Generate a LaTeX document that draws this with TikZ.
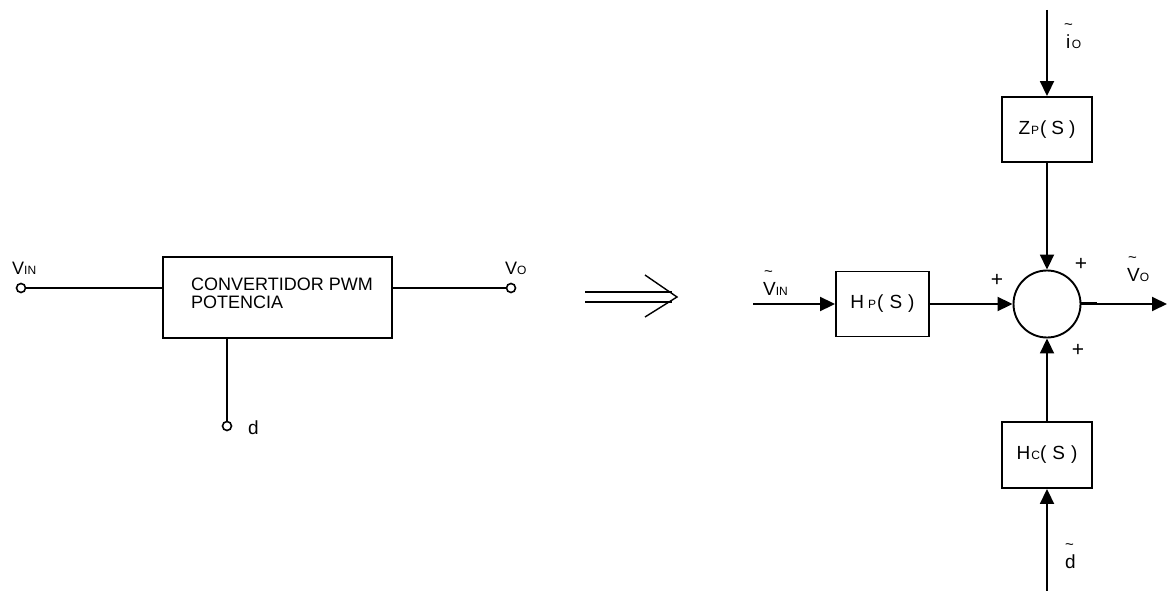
\documentclass[tikz,border=0pt]{standalone}
\usepackage{fontspec}
\setmainfont{Liberation Sans}
\usetikzlibrary{arrows.meta}
\newcommand\smtxt[1]{{\fontsize{12}{13}\selectfont #1}}
\newcommand\tld[2][0pt]{\rlap{\hspace{#1}\raisebox{1.0em}{\fontsize{15}{15}\selectfont\textasciitilde}}#2}
\begin{document}
\begin{tikzpicture}[x=1pt,y=-1pt,
  wire/.style={line width=1.9pt},
  flow/.style={wire,-{Triangle[length=15pt,width=14pt]}},
  blk/.style={draw,line width=1.9pt,rectangle,inner sep=0pt,font=\fontsize{19}{20}\selectfont},
  sumnode/.style={draw,circle,line width=1.9pt,minimum size=67pt,inner sep=0pt},
  term/.style={circle,draw,fill=white,line width=1.6pt,minimum size=9pt,inner sep=0pt},
  lbl/.style={inner sep=0pt,font=\fontsize{18}{18}\selectfont},
  sgn/.style={inner sep=0pt,font=\fontsize{21}{21}\selectfont}]
\useasboundingbox (0,0) rectangle (1173,591);

% ---------- left: converter ----------
\node[draw,line width=1.9pt,minimum width=229pt,minimum height=81pt,inner sep=0pt] (conv) at (277.5,297.5) {};
\node[lbl,anchor=north west,align=left,font=\fontsize{18}{18}\selectfont] (convtext) at (191,278) {CONVERTIDOR PWM\\POTENCIA};
\node[term] (tin) at (21,288) {};
\node[term] (tout) at (511,288) {};
\node[term] (td) at (227,426) {};
\draw[wire] (tin) -- (tin -| conv.west);
\draw[wire] (tout -| conv.east) -- (tout);
\draw[wire] (td |- conv.south) -- (td);
\node[lbl,anchor=base west] (lvin) at (12,274) {V\smtxt{IN}};
\node[lbl,anchor=base west] (lvo) at (505,274) {V\smtxt{O}};
\node[lbl,anchor=base west,font=\fontsize{19}{19}\selectfont] (ld) at (248,434) {d};

% ---------- implies arrow ----------
\coordinate (ia1) at (585,292);
\coordinate (ia2) at (672,292);
\coordinate (ib1) at (585,302);
\coordinate (ib2) at (672,302);
\coordinate (ih1) at (645,275);
\coordinate (iht) at (677,297);
\coordinate (ih2) at (645,317);
\draw[line width=1.4pt] (ia1) -- (ia2) (ib1) -- (ib2);
\draw[line width=1.4pt] (ih1) -- (iht) -- (ih2);

% ---------- right: block diagram ----------
\node[sumnode] (sum) at (1047,304) {};
\node[blk,minimum width=93pt,minimum height=65pt] (hp) at (882.5,304) {H\hspace{4pt}\smtxt{P}\hspace{1pt}(\hspace{6pt}S\hspace{6pt})};
\node[blk,minimum width=90pt,minimum height=65pt] (zp) at (1047,129.5) {Z\hspace{1pt}\smtxt{P}\hspace{1pt}(\hspace{5pt}S\hspace{5pt})};
\node[blk,minimum width=90pt,minimum height=66pt] (hc) at (1047,455) {H\hspace{1pt}\smtxt{C}(\hspace{6pt}S\hspace{6pt})};
\coordinate (vinst) at (753,304);
\coordinate (voend) at (1167,304);
\coordinate (iotop) at (1047,10);
\coordinate (dbot) at (1047,591);

\draw[flow] (vinst) -- (hp.west);
\draw[flow] (hp.east) -- (sum.west);
\draw[flow] (sum.east) -- (voend);
\draw[flow] (iotop) -- (zp.north);
\draw[flow] (zp.south) -- (sum.north);
\draw[flow] (dbot) -- (hc.south);
\draw[flow] (hc.north) -- (sum.south);
\draw[line width=1.9pt] (sum.east) ++(0,-1.5) -- ++(16,0);

\node[sgn] (p1) at (997,280) {+};
\node[sgn] (p2) at (1081,264) {+};
\node[sgn] (p3) at (1078,350) {+};

\node[lbl,anchor=base west,font=\fontsize{19}{19}\selectfont] (lvint) at (763,295) {\tld[1pt]{V}\smtxt{IN}};
\node[lbl,anchor=base west,font=\fontsize{19}{19}\selectfont] (lvot) at (1127,281) {\tld[1pt]{V}\smtxt{O}};
\node[lbl,anchor=base west,font=\fontsize{19}{19}\selectfont] (liot) at (1066,49) {\tld[-2pt]{i}\hspace{1.5pt}\smtxt{O}};
\node[lbl,anchor=base west,font=\fontsize{19}{19}\selectfont] (ldt) at (1065,568) {\tld[0pt]{d}};
\end{tikzpicture}
\end{document}
